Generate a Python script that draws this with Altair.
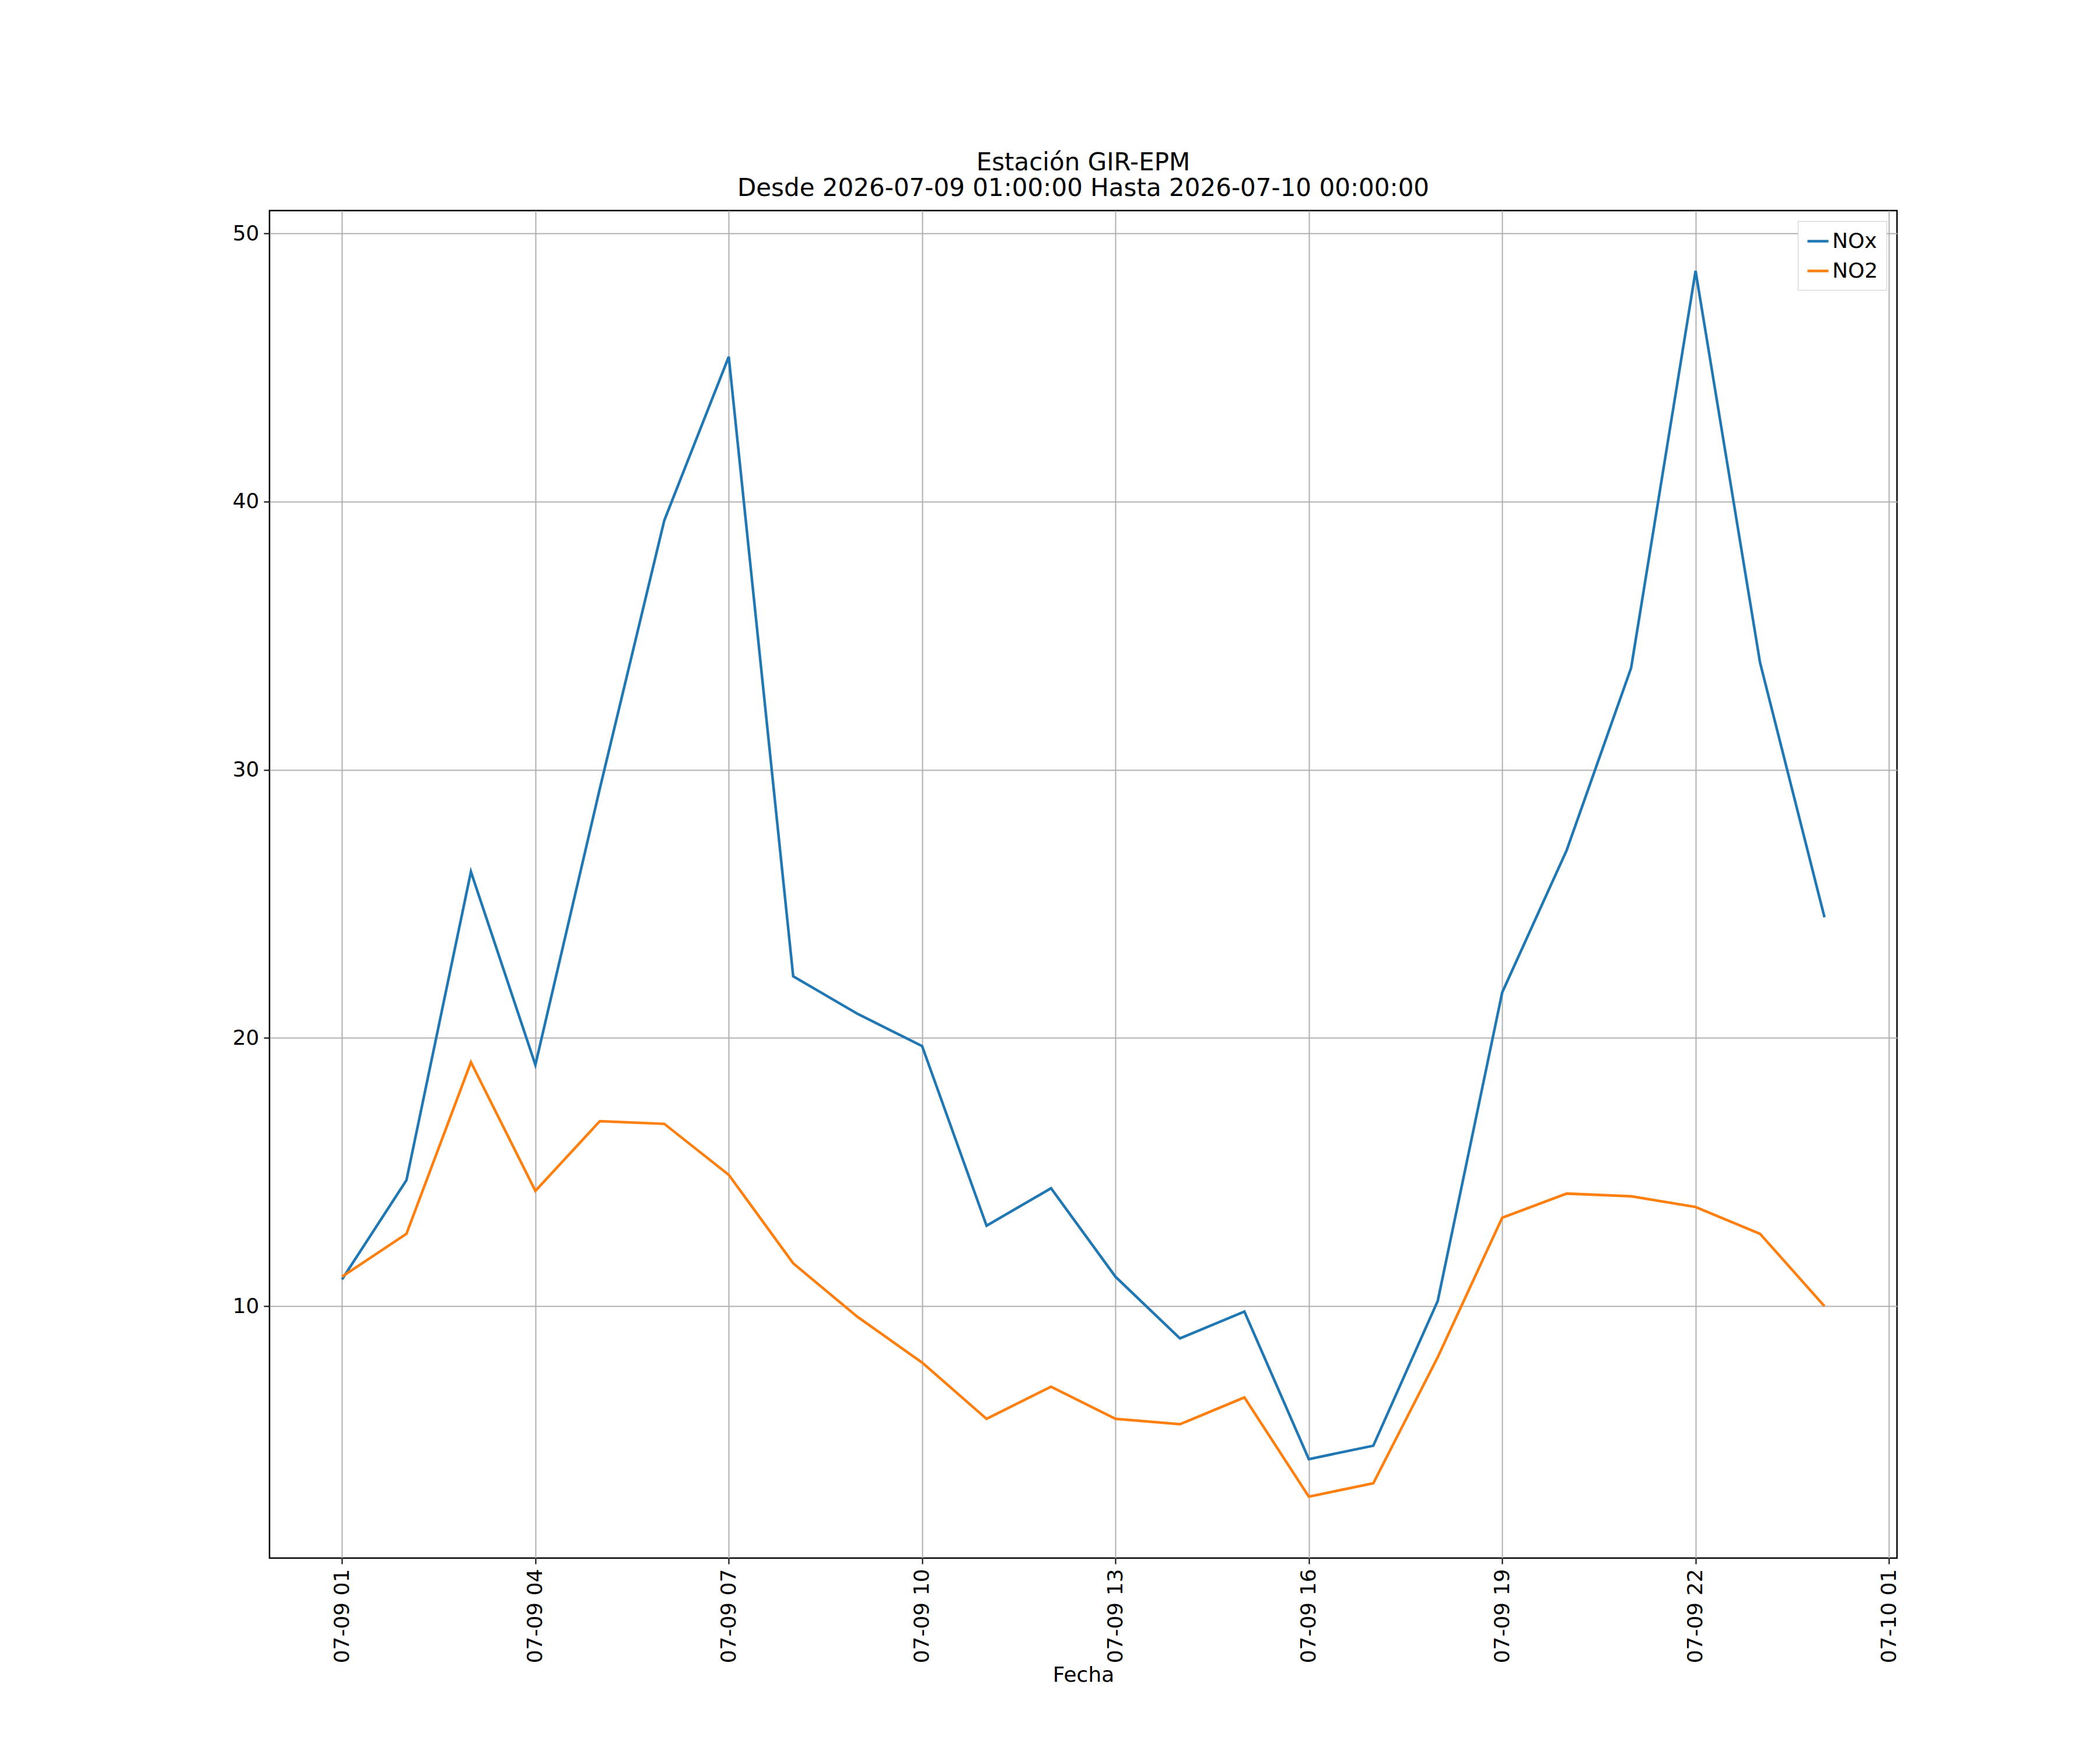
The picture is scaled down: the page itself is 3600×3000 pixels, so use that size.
import altair as alt
import pandas as pd

hours = list(range(1, 24)) + [24]
nox = [11.0, 14.7, 26.2, 19.0, 29.3, 39.3, 45.4, 22.3, 20.9, 19.7, 13.0, 14.4,
       11.1, 8.8, 9.8, 4.3, 4.8, 10.2, 21.7, 27.0, 33.8, 48.6, 34.0, 24.5]
no2 = [11.1, 12.7, 19.1, 14.3, 16.9, 16.8, 14.9, 11.6, 9.6, 7.9, 5.8, 7.0,
       5.8, 5.6, 6.6, 2.9, 3.4, 8.1, 13.3, 14.2, 14.1, 13.7, 12.7, 10.0]

times = [pd.Timestamp("2026-07-09") + pd.Timedelta(hours=h) for h in hours]
df = pd.concat([
    pd.DataFrame({"Fecha": times, "valor": nox, "serie": "NOx"}),
    pd.DataFrame({"Fecha": times, "valor": no2, "serie": "NO2"}),
])
df["Fecha"] = df["Fecha"].dt.strftime("%Y-%m-%dT%H:%M:%S")

tick_vals = [alt.DateTime(year=2026, month=7, date=9, hours=h) for h in range(1, 24, 3)]
tick_vals.append(alt.DateTime(year=2026, month=7, date=10, hours=1))
domain = [alt.DateTime(year=2026, month=7, date=8, hours=23, minutes=52, seconds=30),
          alt.DateTime(year=2026, month=7, date=10, hours=1, minutes=7, seconds=30)]

font = "DejaVu Sans"
chart = alt.Chart(df).mark_line(strokeWidth=4.5).encode(
    x=alt.X("Fecha:T", title="Fecha",
            scale=alt.Scale(domain=domain),
            axis=alt.Axis(values=tick_vals, format="%m-%d %H", labelAngle=270,
                          labelFontSize=36, titleFontSize=36, titleFontWeight="normal",
                          tickSize=10, tickWidth=2, domain=False, labelPadding=8,
                          gridColor="#b0b0b0", gridWidth=2, labelColor="black",
                          titleColor="black", tickColor="black")),
    y=alt.Y("valor:Q", title=None,
            scale=alt.Scale(domain=[0.61, 50.85], nice=False, zero=False),
            axis=alt.Axis(values=[10, 20, 30, 40, 50], labelFontSize=36,
                          tickSize=10, tickWidth=2, domain=False, labelPadding=8,
                          gridColor="#b0b0b0", gridWidth=2, labelColor="black",
                          tickColor="black")),
    color=alt.Color("serie:N", sort=["NOx", "NO2"],
                    scale=alt.Scale(domain=["NOx", "NO2"], range=["#1f77b4", "#ff7f0e"]),
                    legend=alt.Legend(title=None, orient="top-right", offset=18,
                                      labelFontSize=36, symbolType="stroke",
                                      symbolSize=1300, symbolStrokeWidth=4.5,
                                      fillColor="white", strokeColor="#cccccc",
                                      padding=14, rowPadding=12, labelColor="black")),
).properties(
    width=2790, height=2310,
    title=alt.Title(["Estación GIR-EPM",
                     "Desde 2026-07-09 01:00:00 Hasta 2026-07-10 00:00:00"],
                    fontSize=42, fontWeight="normal", color="black", offset=16),
    padding={"left": 390, "top": 250, "right": 300, "bottom": 80},
).configure(font=font).configure_view(stroke="black", strokeWidth=2.5)

chart.save("out.html", embed_options={"renderer": "svg", "actions": False})
